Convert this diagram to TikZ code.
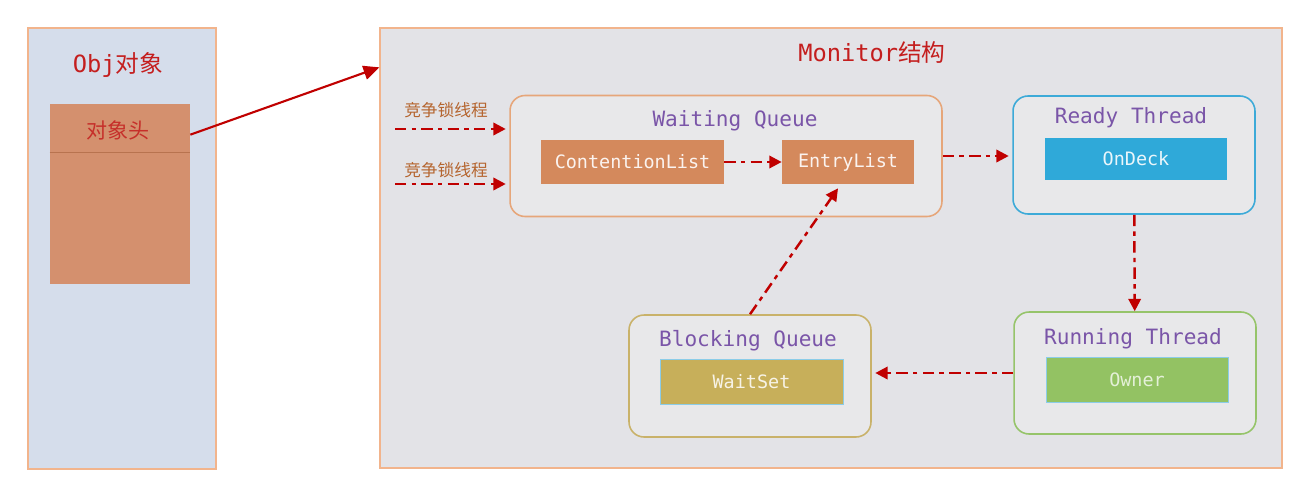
\documentclass[tikz,border=0pt]{standalone}
\usepackage{fontspec}
\setmonofont{DejaVu Sans Mono}
\newfontfamily\cjk{Noto Sans CJK SC}
\usetikzlibrary{arrows.meta}
\usetikzlibrary{backgrounds}
\usetikzlibrary{positioning}
\definecolor{titlered}{HTML}{C41E1E}
\definecolor{flowred}{HTML}{C00000}
\definecolor{objblue}{HTML}{D5DDEB}
\definecolor{frameorange}{HTML}{F2B48C}
\definecolor{headfill}{HTML}{D4906E}
\definecolor{headline}{HTML}{B8734F}
\definecolor{monitorgray}{HTML}{E3E3E7}
\definecolor{queuegray}{HTML}{E8E8EA}
\definecolor{purple}{HTML}{7A55A8}
\definecolor{waitorange}{HTML}{E6A67A}
\definecolor{listorange}{HTML}{D4895C}
\definecolor{readyblue}{HTML}{3DAAD8}
\definecolor{deckblue}{HTML}{2FA9D9}
\definecolor{rungreen}{HTML}{96C46A}
\definecolor{ownergreen}{HTML}{93C263}
\definecolor{blockolive}{HTML}{C9B26A}
\definecolor{waitolive}{HTML}{C7AF5A}
\definecolor{lockbrown}{HTML}{B5652F}
\tikzset{
  frame/.style={
    draw=frameorange,
    rectangle,
    line width=0.8pt,
  },
  group/.style={
    draw,
    rectangle,
    fill=queuegray,
    rounded corners=3mm,
    line width=0.9pt,
    minimum width=4.84cm,
    minimum height=2.44cm,
  },
  grouptitle/.style={
    purple,
    node font=\ttfamily\fontsize{12}{14}\selectfont,
    inner sep=0,
  },
  list/.style={
    rectangle,
    minimum width=3.66cm,
    minimum height=0.9cm,
    node font=\ttfamily\fontsize{10.5}{12}\selectfont,
  },
  title/.style={
    titlered,
    node font=\ttfamily\fontsize{13.5}{15}\selectfont,
    inner sep=0,
  },
  lock/.style={
    lockbrown,
    node font=\cjk\fontsize{9.5}{11}\selectfont,
    inner sep=0,
  },
  flow/.style={
    draw,
    flowred,
    line width=1.4pt,
    dash pattern=on 6.5pt off 3pt on 2.5pt off 3pt,
    -{Triangle[length=7pt,width=7pt]},
  },
  link/.style={
    draw,
    flowred,
    line width=1.2pt,
    -{Triangle[length=9pt,width=8pt]},
  },
}

\begin{document}
\begin{tikzpicture}[x=0.02cm,y=-0.02cm]
  \useasboundingbox [fill=white] (0,0) rectangle (1314,490);

  % object side
  \node (obj)  [frame,fill=objblue,minimum width=3.76cm,minimum height=8.82cm] at (122,248.5) {};
  \node (objtitle) [title] at (118,65) {Obj\cjk 对象};
  \node (head) [rectangle,fill=headfill,minimum width=2.8cm,minimum height=3.6cm] at (120,194) {};
  \draw [headline,line width=0.8pt] ([yshift=-0.98cm]head.north west) -- ([yshift=-0.98cm]head.north east);
  \node (headtext) [titlered!85!headfill,node font=\cjk\fontsize{12}{14}\selectfont] at (118,130) {对象头};

  % monitor side
  \node (monitor) [frame,fill=monitorgray,minimum width=18.04cm,minimum height=8.8cm] at (831,248) {};
  \node (montitle) [title] at (872,52) {Monitor\cjk 结构};

  \node (waiting) [group,draw=waitorange,minimum width=8.64cm,minimum height=2.42cm] at (726,156) {};
  \node (waitingtitle) [grouptitle] at (735,121) {Waiting Queue};
  \node (contention) [list,fill=listorange,text=white!90!listorange] at (632.5,162) {ContentionList};
  \node (entry) [list,fill=listorange,text=white!90!listorange,minimum width=2.64cm] at (848,162) {EntryList};

  \node (ready) [group,draw=readyblue,minimum height=2.36cm] at (1134,155) {};
  \node (readytitle) [grouptitle] at (1131,118) {Ready Thread};
  \node (ondeck) [list,fill=deckblue,text=white!90!deckblue,minimum width=3.64cm,minimum height=0.84cm] at (1136,159) {OnDeck};

  \node (running) [group,draw=rungreen] at (1135,373) {};
  \node (runningtitle) [grouptitle] at (1133,339) {Running Thread};
  \node (owner) [list,draw=readyblue!60,fill=ownergreen,text=white!75!ownergreen,minimum width=3.64cm] at (1137,380) {Owner};

  \node (blocking) [group,draw=blockolive] at (750,376) {};
  \node (blockingtitle) [grouptitle] at (748,341) {Blocking Queue};
  \node (waitset) [list,draw=readyblue!60,fill=waitolive,text=white!85!waitolive] at (751.5,382) {WaitSet};

  % threads coming in
  \node (lock1) [lock] at (446,110) {竞争锁线程};
  \node (lock2) [lock] at (446,170) {竞争锁线程};
  \coordinate (src1) at (395,129);
  \coordinate (src2) at (395,184);

  \path [link] ([yshift=-0.62cm]head.north east) -- ([yshift=-0.8cm]monitor.north west);
  \path [flow] (src1) -- ([xshift=-2pt]src1 -| waiting.west);
  \path [flow] (src2) -- ([xshift=-2pt]src2 -| waiting.west);
  \path [flow] (contention) -- (entry);
  \path [flow] (waiting.east) -- ([xshift=-2pt]ready.west |- waiting.east);
  \path [flow] (ready) -- (running);
  \path [flow] (running.west) -- ([xshift=2pt]blocking.east |- running.west);
  \path [flow] (blocking.north) -- ([xshift=-0.2cm,yshift=-2pt]entry.south);
\end{tikzpicture}
\end{document}
